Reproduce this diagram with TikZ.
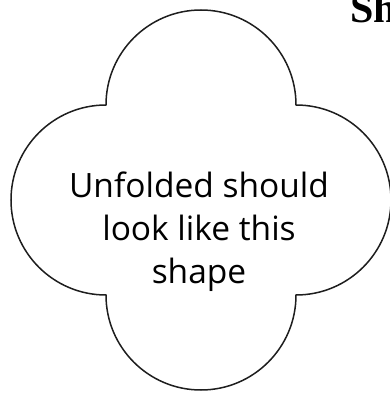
\documentclass[tikz,border=0pt]{standalone}
\usepackage{fontspec}
\usepackage{xcolor}
\usepackage{tikz}
\usetikzlibrary{positioning}
\newfontfamily\labelfont{Open Sans}
\newfontfamily\headfont{Liberation Serif}
\definecolor{outline}{HTML}{1E1E1E}
\tikzset{
  lobe/.style={draw=outline,line width=1.5pt,line join=miter},
  shapetext/.style={align=center,font=\labelfont\fontsize{33.5}{43}\selectfont,inner sep=0pt},
  headtext/.style={font=\headfont\bfseries\fontsize{42}{46}\selectfont,inner sep=0pt}
}
% one semicircular lobe, starting at the current corner
\newcommand{\lobearc}[1]{arc[start angle=#1,delta angle=-180,radius=95]}

\begin{document}
\begin{tikzpicture}[x=1pt,y=1pt]
  \useasboundingbox (0,0) rectangle (390,400);
  \clip (0,0) rectangle (390,400);
  % corners of the inner square
  \coordinate (tl) at (106,295);
  % four lobes: top, right, bottom, left
  \draw[lobe] (tl) \lobearc{180} \lobearc{90} \lobearc{0} \lobearc{270} -- cycle;
  \node[shapetext] (caption) at (199,168) {Unfolded should\\look like this\\shape};
  \node[headtext,anchor=base west] (heading) at (350,377) {Sh};
\end{tikzpicture}
\end{document}
